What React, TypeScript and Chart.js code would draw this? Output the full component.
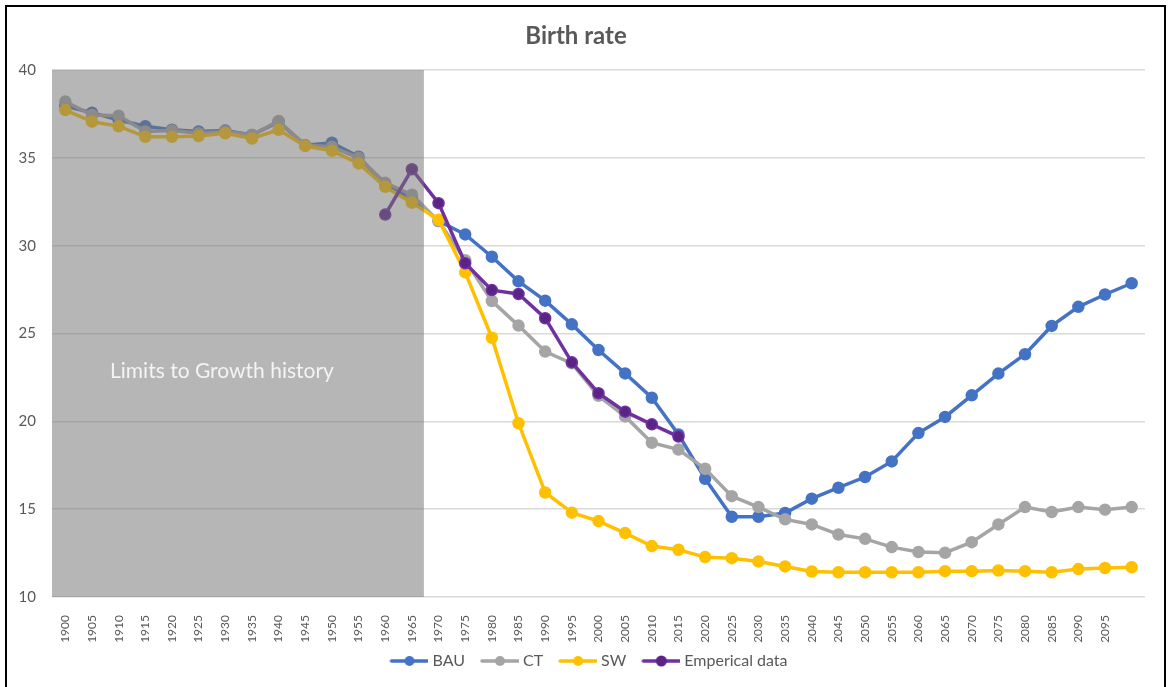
import React, { useEffect, useRef } from 'react';
import { Chart, registerables } from 'chart.js';

Chart.register(...registerables);

const years = ['1900','1905','1910','1915','1920','1925','1930','1935','1940','1945','1950','1955','1960','1965','1970','1975','1980','1985','1990','1995','2000','2005','2010','2015','2020','2025','2030','2035','2040','2045','2050','2055','2060','2065','2070','2075','2080','2085','2090','2095','2100'];

const bau = [37.95,37.57,37.15,36.8,36.6,36.5,36.55,36.3,37.05,35.72,35.86,35.06,33.45,32.7,31.4,30.64,29.37,27.97,26.87,25.52,24.06,22.73,21.34,19.25,16.73,14.57,14.57,14.78,15.6,16.22,16.83,17.72,19.33,20.25,21.48,22.72,23.82,25.43,26.52,27.22,27.86];

const ct = [38.2,37.44,37.4,36.5,36.55,36.4,36.5,36.3,37.1,35.72,35.63,35.0,33.58,32.9,31.4,29.17,26.85,25.45,23.97,23.3,21.45,20.28,18.78,18.39,17.3,15.74,15.12,14.42,14.13,13.56,13.31,12.84,12.56,12.52,13.12,14.13,15.12,14.84,15.12,14.97,15.12];

const sw = [37.72,37.06,36.8,36.2,36.2,36.24,36.4,36.1,36.6,35.67,35.4,34.68,33.35,32.45,31.48,28.48,24.76,19.89,15.95,14.8,14.32,13.64,12.9,12.69,12.27,12.21,12.02,11.74,11.45,11.41,11.41,11.41,11.41,11.47,11.47,11.51,11.47,11.41,11.59,11.65,11.7];

const empirical = [null,null,null,null,null,null,null,null,null,null,null,null,31.77,34.35,32.42,29.0,27.47,27.25,25.87,23.36,21.6,20.55,19.83,19.13,null,null,null,null,null,null,null,null,null,null,null,null,null,null,null,null,null];

const yTicks = [10, 15, 20, 25, 30, 35, 40];

const historyEndIndex = 13.45; // category position where the shaded history block ends
const historyLabel = 'Limits to Growth history';
const historyLabelValue = 22.87;

const FONT = 'Lato, "Open Sans", "DejaVu Sans", sans-serif';
const TEXT = '#595959';

function legendIcon(color: string, fill: string, radius: number) {
  const c = document.createElement('canvas');
  c.width = 42;
  c.height = 14;
  const ctx = c.getContext('2d')!;
  ctx.strokeStyle = color;
  ctx.lineWidth = 3.5;
  ctx.lineCap = 'round';
  ctx.beginPath();
  ctx.moveTo(5, 7);
  ctx.lineTo(41, 7);
  ctx.stroke();
  ctx.fillStyle = fill;
  ctx.beginPath();
  ctx.arc(23, 7, radius, 0, Math.PI * 2);
  ctx.fill();
  return c;
}

const shadePlugin = {
  id: 'historyShade',
  afterLayout(chart: any) {
    // nudge the legend block slightly left to sit where the reference legend sits
    if (chart.legend) {
      chart.legend.left -= 9.5;
      chart.legend.right -= 9.5;
    }
  },
  afterDatasetsDraw(chart: any) {
    const { ctx, chartArea, scales } = chart;
    const xs = scales.x;
    const ys = scales.y;
    const i0 = Math.floor(historyEndIndex);
    const p0 = xs.getPixelForValue(i0);
    const p1 = xs.getPixelForValue(i0 + 1);
    const right = p0 + (p1 - p0) * (historyEndIndex - i0);
    ctx.save();
    ctx.fillStyle = 'rgba(115,115,115,0.52)';
    ctx.fillRect(chartArea.left, chartArea.top, right - chartArea.left, chartArea.bottom - chartArea.top);
    ctx.fillStyle = '#F4F4F4';
    ctx.font = `21px ${FONT}`;
    ctx.textAlign = 'center';
    ctx.textBaseline = 'middle';
    ctx.fillText(historyLabel, (chartArea.left + right) / 2 - 16, ys.getPixelForValue(historyLabelValue));
    ctx.restore();
  },
};

export default function App() {
  const ref = useRef<HTMLCanvasElement | null>(null);

  useEffect(() => {
    if (!ref.current) return;
    const icons = [
      legendIcon('#4472C4', '#4472C4', 5),
      legendIcon('#A5A5A5', '#A5A5A5', 5),
      legendIcon('#FFC000', '#FFC000', 5),
      legendIcon('#7030A0', '#5A2486', 5.5),
    ];
    const chart = new Chart(ref.current, {
      type: 'line',
      data: {
        labels: years,
        datasets: [
          { label: 'BAU', data: bau, borderColor: '#4472C4', backgroundColor: '#4472C4', pointBackgroundColor: '#4472C4', pointBorderColor: '#4472C4', borderWidth: 3.5, pointRadius: 4.5, tension: 0, order: 3 },
          { label: 'CT', data: ct, borderColor: '#A5A5A5', backgroundColor: '#A5A5A5', pointBackgroundColor: '#A5A5A5', pointBorderColor: '#A5A5A5', borderWidth: 3.5, pointRadius: 4.5, tension: 0, order: 2 },
          { label: 'SW', data: sw, borderColor: '#FFC000', backgroundColor: '#FFC000', pointBackgroundColor: '#FFC000', pointBorderColor: '#FFC000', borderWidth: 3.5, pointRadius: 4.5, tension: 0, order: 1 },
          { label: 'Emperical data', data: empirical as any, borderColor: '#7030A0', backgroundColor: '#7030A0', pointBackgroundColor: '#5A2486', pointBorderColor: '#7030A0', pointBorderWidth: 1.5, borderWidth: 3.5, pointRadius: 5.5, tension: 0, order: 0 },
        ],
      },
      options: {
        animation: false,
        responsive: false,
        events: [],
        layout: { padding: { left: 0, right: 19, top: 0, bottom: 8 } },
        plugins: {
          title: {
            display: true,
            text: 'Birth rate',
            color: TEXT,
            font: { family: FONT, size: 24, weight: 'bold' },
            padding: { top: 14.6, bottom: 19.6 },
          },
          legend: {
            position: 'bottom',
            fullSize: false,
            labels: {
              usePointStyle: true,
              pointStyleWidth: 34,
              boxHeight: 12,
              padding: 16,
              color: TEXT,
              font: { family: FONT, size: 16 },
              generateLabels: (c: any) =>
                c.data.datasets.map((ds: any, i: number) => ({
                  text: ds.label,
                  fillStyle: ds.borderColor,
                  strokeStyle: ds.borderColor,
                  lineWidth: 0,
                  hidden: false,
                  datasetIndex: i,
                  pointStyle: icons[i],
                  fontColor: TEXT,
                })),
            },
          },
          tooltip: { enabled: false },
        },
        scales: {
          x: {
            offset: true,
            grid: { display: false },
            border: { display: false },
            ticks: {
              autoSkip: false,
              maxRotation: 90,
              minRotation: 90,
              padding: 10,
              color: TEXT,
              font: { family: FONT, size: 12 },
              callback: (_v: any, i: number) => (i === years.length - 1 ? '' : years[i]),
            },
            afterFit: (s: any) => {
              s.height = 40;
              s._computeLabelArea = () => undefined;
            },
          },
          y: {
            min: 10,
            max: 40,
            afterBuildTicks: (s: any) => { s.ticks = yTicks.map((v) => ({ value: v })); },
            ticks: { padding: 16, color: TEXT, font: { family: FONT, size: 15 } },
            grid: { color: '#D9D9D9', drawTicks: false, lineWidth: 1.5 },
            border: { display: false },
            afterFit: (s: any) => { s.width = 45; },
          },
        },
      },
      plugins: [shadePlugin],
    });
    return () => chart.destroy();
  }, []);

  return (
    <div
      style={{
        position: 'fixed',
        left: 5,
        top: 5,
        width: 1161,
        height: 700,
        boxSizing: 'border-box',
        border: '2px solid #000',
        background: '#fff',
      }}
    >
      <canvas ref={ref} width={1157} height={680} style={{ display: 'block' }} />
    </div>
  );
}
